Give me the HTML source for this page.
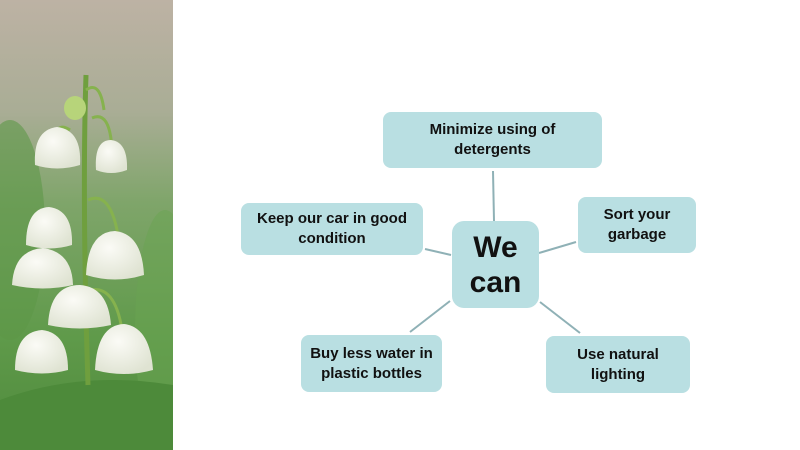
<!DOCTYPE html>
<html><head><meta charset="utf-8"><style>
body{margin:0;width:800px;height:450px;background:#fff;position:relative;overflow:hidden;font-family:"Liberation Sans",sans-serif}
.b{position:absolute;background:#b9dfe2;border-radius:8px;display:flex;align-items:center;justify-content:center;text-align:center;font-weight:bold;font-size:15px;line-height:20px;color:#111;letter-spacing:0}
svg{position:absolute;left:0;top:0}
</style></head><body>
<svg width="800" height="450">
<defs>
<clipPath id="c"><rect x="0" y="0" width="173" height="450"/></clipPath>
<linearGradient id="bg" x1="0" y1="0" x2="0" y2="1">
<stop offset="0" stop-color="#bdb2a4"/><stop offset="0.25" stop-color="#a9ad95"/><stop offset="0.45" stop-color="#7fa56a"/><stop offset="0.75" stop-color="#5f9a4a"/><stop offset="1" stop-color="#4f8a3c"/></linearGradient>
<radialGradient id="fl" cx="0.4" cy="0.35" r="0.7"><stop offset="0" stop-color="#fbfbf6"/><stop offset="1" stop-color="#dfe3d2"/></radialGradient>
</defs>
<g clip-path="url(#c)">
<rect x="0" y="0" width="173" height="450" fill="url(#bg)"/>
<ellipse cx="10" cy="230" rx="35" ry="110" fill="#5d9848" opacity="0.6"/>
<ellipse cx="165" cy="330" rx="30" ry="120" fill="#6aa352" opacity="0.5"/>
<path d="M0 400 Q80 370 173 385 L173 450 L0 450Z" fill="#4d8a3a"/>
<path d="M86 75 Q82 200 88 385" stroke="#6f9f3e" stroke-width="5" fill="none"/>
<path d="M86 90 Q100 80 104 110 M92 118 Q110 110 112 150 M88 200 Q110 190 118 235 M80 300 Q70 280 58 300 M90 290 Q115 285 122 330 M70 130 Q55 120 55 145" stroke="#86b24e" stroke-width="3" fill="none"/>
<ellipse cx="75" cy="108" rx="11" ry="12" fill="#b7d47a"/>
<g fill="url(#fl)">
<path d="M35 165 Q33 130 57 127 Q82 130 80 165 Q57 172 35 165Z"/>
<path d="M96 170 Q94 140 111 140 Q128 142 127 170 Q111 176 96 170Z"/>
<path d="M26 245 Q26 208 49 207 Q73 210 72 245 Q49 252 26 245Z"/>
<path d="M12 285 Q14 250 43 248 Q72 252 73 285 Q43 292 12 285Z"/>
<path d="M86 275 Q88 232 115 231 Q142 234 144 275 Q115 284 86 275Z"/>
<path d="M48 325 Q50 285 80 285 Q108 287 111 325 Q80 332 48 325Z"/>
<path d="M15 370 Q15 332 42 330 Q68 333 68 370 Q42 377 15 370Z"/>
<path d="M95 370 Q97 325 124 324 Q150 327 153 370 Q124 378 95 370Z"/>
</g>
</g>
<g stroke="#8fb1b6" stroke-width="2">
<line x1="493" y1="171" x2="494" y2="221"/>
<line x1="425" y1="249" x2="451" y2="255"/>
<line x1="539" y1="253" x2="576" y2="242"/>
<line x1="410" y1="332" x2="450" y2="301"/>
<line x1="540" y1="302" x2="580" y2="333"/>
</g>
</svg>
<div class="b" style="left:383px;top:112px;width:219px;height:56px">Minimize using of<br>detergents</div>
<div class="b" style="left:241px;top:203px;width:182px;height:52px">Keep our car in good<br>condition</div>
<div class="b" style="left:578px;top:197px;width:118px;height:56px">Sort your<br>garbage</div>
<div class="b" style="left:452px;top:221px;width:87px;height:87px;font-size:30px;line-height:35px;border-radius:12px">We<br>can</div>
<div class="b" style="left:301px;top:335px;width:141px;height:57px">Buy less water in<br>plastic bottles</div>
<div class="b" style="left:546px;top:336px;width:144px;height:57px">Use natural<br>lighting</div>
</body></html>
